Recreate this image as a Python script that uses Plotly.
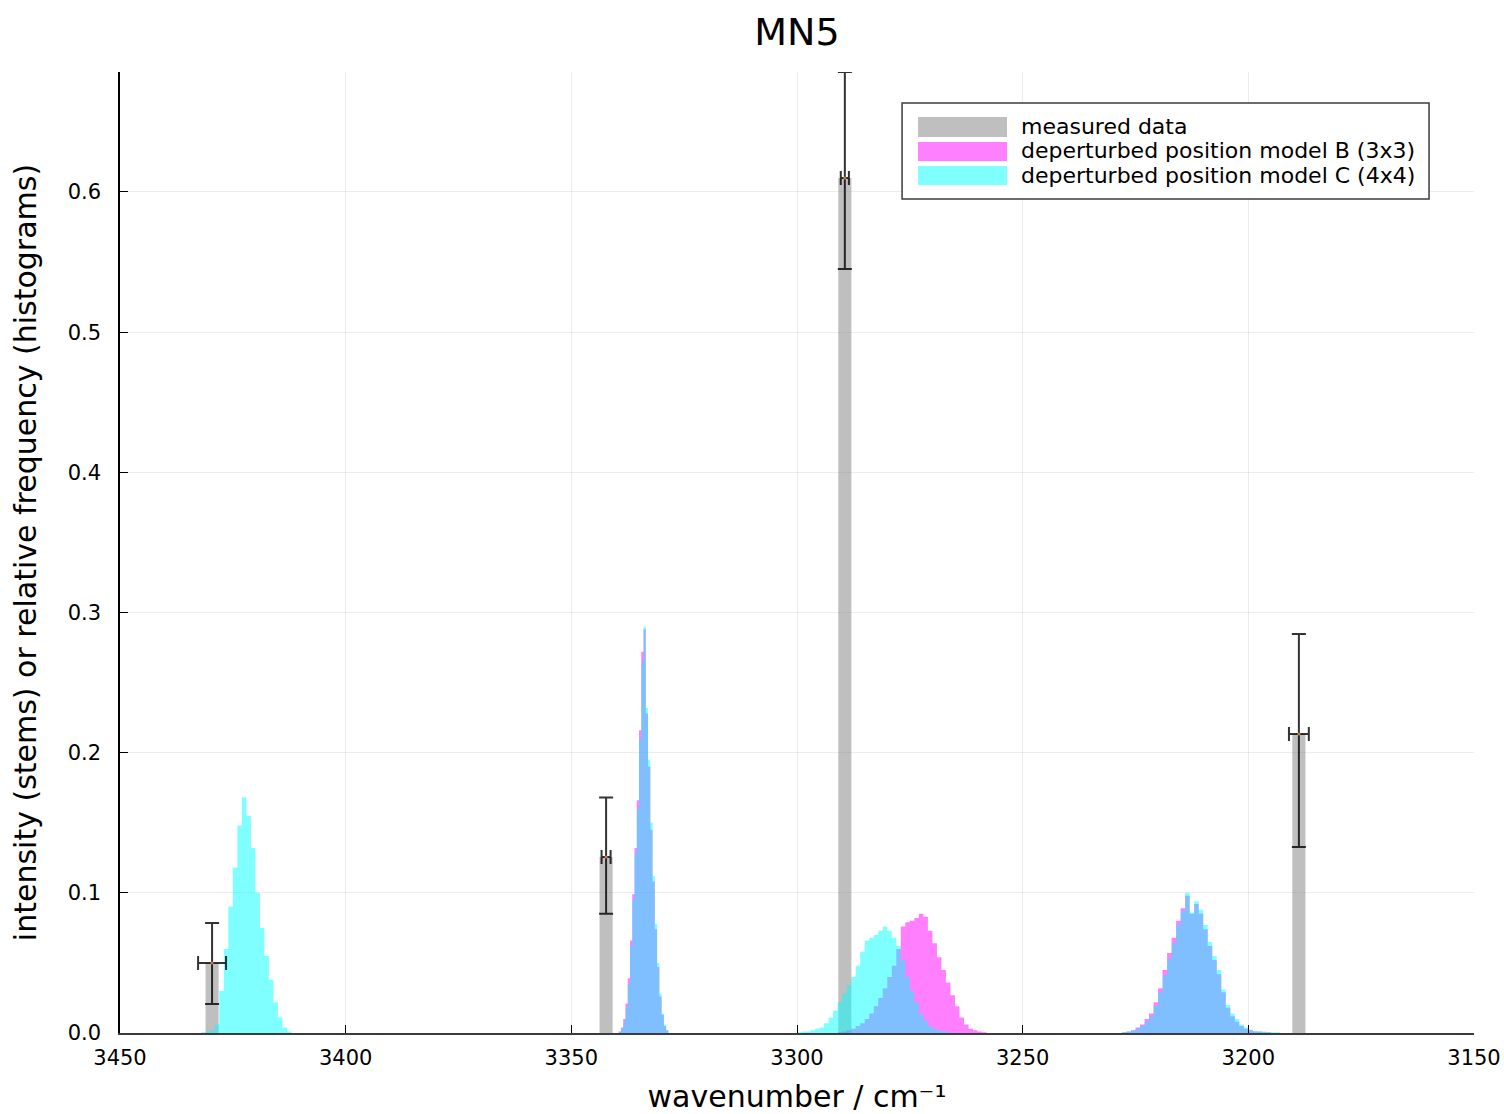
import numpy as np
import plotly.graph_objects as go

# ---------------- data ----------------
# measured data (stems with error bars)
meas_x = [3429.6, 3342.3, 3289.4, 3188.8]
meas_y = [0.050, 0.1256, 0.610, 0.2133]
meas_err_up = [0.0285, 0.0424, 0.0756, 0.0714]
meas_err_down = [0.0293, 0.0406, 0.0650, 0.0806]
meas_err_x = [3.1, 1.0, 0.9, 2.2]

# histograms: bin start (high wavenumber edge), bin width, relative frequencies
# model C (4x4)
c1_start, c1_width = 3432.0, 1.0
c1_vals = [0.0005, 0.001, 0.002, 0.006, 0.030, 0.060, 0.090, 0.118, 0.148, 0.168,
           0.155, 0.132, 0.100, 0.075, 0.055, 0.038, 0.022, 0.011, 0.004, 0.001]

c2_start, c2_width = 3339.5, 0.5
c2_vals = [0.001, 0.003, 0.008, 0.018, 0.035, 0.062, 0.095, 0.128, 0.160, 0.210, 0.265,
           0.290, 0.232, 0.195, 0.150, 0.112, 0.078, 0.050, 0.028, 0.014, 0.006, 0.002]

c3_start, c3_width = 3300.0, 1.0
c3_vals = [0.0005, 0.001, 0.001, 0.002, 0.003, 0.004, 0.007, 0.011, 0.016, 0.022, 0.028,
           0.034, 0.040, 0.048, 0.058, 0.066, 0.068, 0.070, 0.073, 0.076, 0.073, 0.068,
           0.062, 0.052, 0.040, 0.030, 0.022, 0.014, 0.009, 0.005, 0.003, 0.002, 0.001, 0.0005]

c4_start, c4_width = 3228.0, 1.0
c4_vals = [0.0005, 0.001, 0.002, 0.003, 0.005, 0.008, 0.012, 0.019, 0.029, 0.041, 0.053,
           0.064, 0.077, 0.087, 0.100, 0.086, 0.094, 0.088, 0.077, 0.065, 0.055, 0.045,
           0.031, 0.020, 0.014, 0.010, 0.006, 0.004, 0.0025, 0.0015, 0.001, 0.001, 0.0005,
           0.0005, 0.0005]

# model B (3x3)
b2_start, b2_width = 3339.5, 0.5
b2_vals = [0.001, 0.004, 0.010, 0.021, 0.039, 0.066, 0.099, 0.132, 0.166, 0.216, 0.272,
           0.288, 0.228, 0.190, 0.145, 0.108, 0.074, 0.047, 0.026, 0.013, 0.005, 0.002]

b3_start, b3_width = 3291.0, 1.0
b3_vals = [0.0005, 0.001, 0.002, 0.003, 0.005, 0.007, 0.010, 0.014, 0.019, 0.025, 0.032,
           0.040, 0.048, 0.060, 0.076, 0.079, 0.080, 0.082, 0.085, 0.083, 0.073, 0.064,
           0.054, 0.045, 0.036, 0.027, 0.019, 0.011, 0.006, 0.003, 0.002, 0.001, 0.0005]

b4_start, b4_width = 3228.0, 1.0
b4_vals = [0.0005, 0.001, 0.002, 0.004, 0.006, 0.010, 0.014, 0.022, 0.032, 0.045, 0.057,
           0.068, 0.080, 0.089, 0.098, 0.085, 0.092, 0.085, 0.074, 0.062, 0.052, 0.042,
           0.029, 0.018, 0.012, 0.008, 0.005, 0.003, 0.002, 0.001, 0.001, 0.0005, 0.0005,
           0.0, 0.0]

x_tickvals = [3450, 3400, 3350, 3300, 3250, 3200, 3150]
x_ticktext = ["3450", "3400", "3350", "3300", "3250", "3200", "3150"]
y_tickvals = [0.0, 0.1, 0.2, 0.3, 0.4, 0.5, 0.6]
y_ticktext = ["0.0", "0.1", "0.2", "0.3", "0.4", "0.5", "0.6"]

legend_labels = ["measured data", "deperturbed position model B (3x3)",
                 "deperturbed position model C (4x4)"]

# ---------------- styles ----------------
FONT = "DejaVu Sans"
GRAY = "rgba(128,128,128,0.5)"
MAGENTA = "rgba(255,0,255,0.5)"
CYAN = "rgba(0,255,255,0.5)"
LEG_COLORS = ["rgb(191,191,191)", "rgb(255,128,255)", "rgb(128,255,255)"]
ERR = "rgba(0,0,0,0.8)"


def step_xy(start, width, vals):
    n = len(vals)
    edges = start - width * np.arange(n + 1)
    xs = np.concatenate([[edges[0]], edges])
    ys = np.concatenate([[0.0], np.asarray(vals, float), [0.0]])
    return xs, ys


fig = go.Figure()

# measured data stems
fig.add_trace(go.Bar(
    x=meas_x, y=meas_y, width=2.9,
    marker=dict(color=GRAY, line=dict(width=0)),
    name=legend_labels[0], showlegend=False,
))

# histograms model B
for s, w, v in [(b2_start, b2_width, b2_vals), (b3_start, b3_width, b3_vals),
                (b4_start, b4_width, b4_vals)]:
    xs, ys = step_xy(s, w, v)
    fig.add_trace(go.Scatter(
        x=xs, y=ys, mode="lines", line=dict(width=0, shape="hv"),
        fill="tozeroy", fillcolor=MAGENTA, name=legend_labels[1],
        legendgroup="B", showlegend=False, hoverinfo="skip",
    ))

# histograms model C
for s, w, v in [(c1_start, c1_width, c1_vals), (c2_start, c2_width, c2_vals),
                (c3_start, c3_width, c3_vals), (c4_start, c4_width, c4_vals)]:
    xs, ys = step_xy(s, w, v)
    fig.add_trace(go.Scatter(
        x=xs, y=ys, mode="lines", line=dict(width=0, shape="hv"),
        fill="tozeroy", fillcolor=CYAN, name=legend_labels[2],
        legendgroup="C", showlegend=False, hoverinfo="skip",
    ))

# error bars
fig.add_trace(go.Scatter(
    x=meas_x, y=meas_y, mode="markers",
    marker=dict(size=3, color="#e26f46"),
    error_y=dict(type="data", symmetric=False, array=meas_err_up,
                 arrayminus=meas_err_down, color=ERR, thickness=2, width=7),
    error_x=dict(type="data", array=meas_err_x, color=ERR, thickness=2, width=7),
    showlegend=False, hoverinfo="skip",
))

# ---------------- custom legend ----------------
shapes = [dict(type="rect", xref="paper", yref="paper",
               x0=0.5776, x1=0.9668, y0=0.8678, y1=0.9677,
               line=dict(color="rgb(60,60,60)", width=1.5), fillcolor="white", layer="above")]
annotations = []
rows = [(0.9324, 0.9532, 0.9428), (0.9074, 0.9272, 0.9178), (0.8824, 0.9022, 0.8928)]
for (y0, y1, yc), col, lab in zip(rows, LEG_COLORS, legend_labels):
    shapes.append(dict(type="rect", xref="paper", yref="paper",
                       x0=0.5894, x1=0.6551, y0=y0, y1=y1,
                       line=dict(width=0), fillcolor=col, layer="above"))
    annotations.append(dict(xref="paper", yref="paper", x=0.6640, y=yc,
                            text=lab, showarrow=False, xanchor="left", yanchor="middle",
                            font=dict(family=FONT, size=22, color="black")))

fig.update_layout(
    width=1504, height=1114,
    margin=dict(l=120, r=30, t=72, b=81, autoexpand=False),
    paper_bgcolor="white", plot_bgcolor="white",
    barmode="overlay",
    showlegend=False,
    title=dict(text="MN5", x=0.5, xref="paper", xanchor="center",
               y=1 - 32 / 1114, yref="container", yanchor="middle",
               font=dict(family=FONT, size=38, color="black")),
    font=dict(family=FONT, color="black"),
    shapes=shapes, annotations=annotations,
)

fig.update_xaxes(
    range=[3450, 3150], tickvals=x_tickvals, ticktext=x_ticktext,
    ticks="inside", ticklen=8, tickcolor="black", tickwidth=1,
    ticklabelstandoff=5, automargin=False,
    showline=True, linecolor="rgb(60,60,60)", linewidth=2,
    showgrid=True, gridcolor="rgba(0,0,0,0.07)", gridwidth=1, zeroline=False,
    tickfont=dict(family=FONT, size=21, color="black"),
    title=dict(text="wavenumber / cm⁻¹", standoff=18,
               font=dict(family=FONT, size=30, color="black")),
)
fig.update_yaxes(
    range=[0, 0.6856], tickvals=y_tickvals, ticktext=y_ticktext,
    ticks="inside", ticklen=8, tickcolor="black", tickwidth=1,
    ticklabelstandoff=13, automargin=False,
    showline=True, linecolor="black", linewidth=1.5,
    showgrid=True, gridcolor="rgba(0,0,0,0.07)", gridwidth=1, zeroline=False,
    tickfont=dict(family=FONT, size=21, color="black"),
    title=dict(text="intensity (stems) or relative frequency (histograms)", standoff=22,
               font=dict(family=FONT, size=30, color="black")),
)

fig.write_html("out.html")
